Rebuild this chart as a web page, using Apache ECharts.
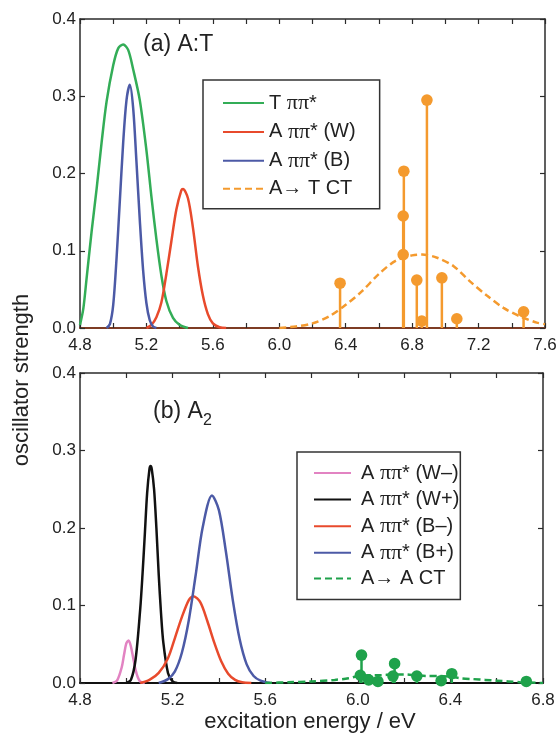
<!DOCTYPE html>
<html>
<head>
<meta charset="utf-8">
<script src="https://cdn.jsdelivr.net/npm/echarts@6/dist/echarts.min.js"></script>
<style>
  html, body { margin: 0; padding: 0; background: #ffffff; }
  #chart { width: 560px; height: 736px; }
</style>
</head>
<body>
<div id="chart"></div>
<script>
// ---------- (a) A:T  ----------
const xTicksA = [4.8, 5.2, 5.6, 6.0, 6.4, 6.8, 7.2, 7.6];
const yTicks = [0.0, 0.1, 0.2, 0.3, 0.4];

const tPiE = [4.80, 4.82, 4.84, 4.87, 4.90, 4.93, 4.96, 5.00, 5.03, 5.06, 5.09, 5.12, 5.16, 5.20, 5.23, 5.26, 5.29, 5.32, 5.36, 5.40, 5.45];
const tPiF = [0.004, 0.025, 0.065, 0.125, 0.180, 0.240, 0.293, 0.340, 0.362, 0.367, 0.360, 0.335, 0.295, 0.230, 0.170, 0.115, 0.068, 0.035, 0.013, 0.004, 0.000];

const aWE = [5.20, 5.23, 5.26, 5.29, 5.32, 5.35, 5.38, 5.41, 5.42, 5.45, 5.48, 5.51, 5.54, 5.57, 5.60, 5.64, 5.68];
const aWF = [0.000, 0.004, 0.014, 0.033, 0.070, 0.112, 0.153, 0.178, 0.180, 0.168, 0.130, 0.080, 0.042, 0.018, 0.006, 0.001, 0.000];

const aBE = [4.96, 4.98, 5.00, 5.02, 5.04, 5.06, 5.08, 5.10, 5.12, 5.14, 5.16, 5.18, 5.20, 5.22, 5.24, 5.26];
const aBF = [0.000, 0.005, 0.030, 0.090, 0.165, 0.240, 0.295, 0.315, 0.285, 0.215, 0.140, 0.075, 0.032, 0.010, 0.002, 0.000];

const atCtE = [6.00, 6.10, 6.20, 6.30, 6.40, 6.50, 6.60, 6.70, 6.80, 6.86, 6.95, 7.05, 7.15, 7.25, 7.35, 7.45, 7.55, 7.60];
const atCtF = [0.000, 0.002, 0.006, 0.015, 0.030, 0.048, 0.070, 0.087, 0.094, 0.095, 0.091, 0.080, 0.060, 0.042, 0.026, 0.015, 0.007, 0.005];

// individual A→T charge-transfer states
const atStickE = [6.366, 6.746, 6.746, 6.750, 6.828, 6.858, 6.889, 6.979, 7.069, 7.471];
const atStickF = [0.058, 0.095, 0.145, 0.203, 0.062, 0.009, 0.295, 0.065, 0.012, 0.021];

// ---------- (b) A2  ----------
const xTicksB = [4.8, 5.2, 5.6, 6.0, 6.4, 6.8];

const wmE = [4.94, 4.96, 4.98, 4.99, 5.00, 5.01, 5.02, 5.03, 5.04, 5.05, 5.06, 5.08];
const wmF = [0.000, 0.003, 0.020, 0.036, 0.051, 0.055, 0.047, 0.032, 0.017, 0.007, 0.002, 0.000];

const wpE = [5.00, 5.02, 5.04, 5.06, 5.07, 5.08, 5.09, 5.10, 5.105, 5.11, 5.12, 5.13, 5.14, 5.15, 5.16, 5.18, 5.20, 5.22];
const wpF = [0.000, 0.004, 0.030, 0.095, 0.140, 0.192, 0.245, 0.276, 0.280, 0.276, 0.250, 0.200, 0.140, 0.090, 0.052, 0.013, 0.002, 0.000];

const bmE = [5.06, 5.10, 5.14, 5.18, 5.21, 5.24, 5.27, 5.29, 5.32, 5.35, 5.38, 5.41, 5.44, 5.47, 5.50, 5.54];
const bmF = [0.000, 0.004, 0.013, 0.032, 0.058, 0.085, 0.107, 0.112, 0.104, 0.080, 0.052, 0.028, 0.012, 0.004, 0.001, 0.000];

const bpE = [5.14, 5.18, 5.21, 5.24, 5.27, 5.30, 5.33, 5.37, 5.40, 5.43, 5.46, 5.49, 5.52, 5.55, 5.58, 5.62];
const bpF = [0.000, 0.005, 0.015, 0.039, 0.081, 0.140, 0.201, 0.242, 0.223, 0.170, 0.107, 0.056, 0.024, 0.009, 0.003, 0.000];

const aaCtE = [5.60, 5.70, 5.80, 5.90, 5.96, 6.00, 6.05, 6.10, 6.15, 6.20, 6.25, 6.30, 6.35, 6.40, 6.45, 6.50, 6.55, 6.60, 6.65, 6.70, 6.80];
const aaCtF = [0.000, 0.001, 0.002, 0.004, 0.006, 0.009, 0.010, 0.010, 0.011, 0.011, 0.010, 0.009, 0.009, 0.008, 0.006, 0.005, 0.004, 0.003, 0.002, 0.001, 0.000];

// individual A→A charge-transfer states
const aaStickE = [6.016, 6.011, 6.047, 6.087, 6.159, 6.152, 6.255, 6.360, 6.406, 6.728];
const aaStickF = [0.036, 0.010, 0.004, 0.002, 0.025, 0.009, 0.009, 0.003, 0.012, 0.002];

// ---------- styling ----------
const FONT = 'Liberation Sans, Arial, Helvetica, sans-serif';
const AXIS = '#2b2b2b';
const C = {
  green: '#33ad57', red: '#e84a2c', blue: '#4c5aa6', orange: '#f49a2e',
  pink: '#e283c2', black: '#111111', ctGreen: '#1fa24b'
};

const zip = (xs, ys) => xs.map((x, i) => [x, ys[i]]);

function curve(name, xs, ys, color, gi, dashed) {
  return {
    name, type: 'line', xAxisIndex: gi * 2, yAxisIndex: gi * 2,
    data: zip(xs, ys), showSymbol: false, symbol: 'none', smooth: 0.3,
    lineStyle: { color, width: 2.5, type: dashed ? [7, 4] : 'solid' },
    itemStyle: { color }, silent: true, animation: false, z: 3
  };
}

function sticks(name, xs, ys, color, gi) {
  return {
    name, type: 'custom', xAxisIndex: gi * 2, yAxisIndex: gi * 2,
    data: zip(xs, ys), encode: { x: 0, y: 1 }, animation: false, silent: true, z: 4,
    renderItem(params, api) {
      const p0 = api.coord([api.value(0), 0]);
      const p1 = api.coord([api.value(0), api.value(1)]);
      return {
        type: 'group',
        children: [
          { type: 'line', shape: { x1: p0[0], y1: p0[1], x2: p1[0], y2: p1[1] },
            style: { stroke: color, lineWidth: 2.5 } },
          { type: 'circle', shape: { cx: p1[0], cy: p1[1], r: 5.8 },
            style: { fill: color } }
        ]
      };
    }
  };
}

const fmt1 = v => (Math.round(v * 10) / 10).toFixed(1);

function xAxes(gi, ticks, baseColor) {
  const common = {
    type: 'value', gridIndex: gi, min: ticks[0], max: ticks[ticks.length - 1], interval: 0.4,
    splitLine: { show: false },
    axisTick: { show: true, inside: true, length: 5, lineStyle: { color: AXIS, width: 1.2 } },
    minorTick: { show: true, splitNumber: 2, length: 5, lineStyle: { color: AXIS, width: 1.2 } },
    minorSplitLine: { show: false }
  };
  return [
    Object.assign({}, common, {
      position: 'bottom',
      axisLine: { show: true, onZero: false, lineStyle: { color: baseColor, width: 2 } },
      axisLabel: { show: true, margin: 9, fontSize: 17, color: '#222', fontFamily: FONT, formatter: fmt1 }
    }),
    Object.assign({}, common, {
      position: 'top',
      axisLine: { show: true, onZero: false, lineStyle: { color: AXIS, width: 1.5 } },
      axisLabel: { show: false }
    })
  ];
}

function yAxes(gi) {
  const common = {
    type: 'value', gridIndex: gi, min: yTicks[0], max: yTicks[yTicks.length - 1], interval: 0.1,
    splitLine: { show: false },
    axisTick: { show: true, inside: true, length: 5, lineStyle: { color: AXIS, width: 1.2 } }
  };
  return [
    Object.assign({}, common, {
      position: 'left',
      axisLine: { show: true, onZero: false, lineStyle: { color: AXIS, width: 1.5 } },
      axisLabel: { show: true, margin: 4, fontSize: 17, color: '#222', fontFamily: FONT, formatter: fmt1 }
    }),
    Object.assign({}, common, {
      position: 'right',
      axisLine: { show: true, onZero: false, lineStyle: { color: AXIS, width: 1.5 } },
      axisLabel: { show: false }
    })
  ];
}

const piRich = { p: { fontFamily: 'Liberation Serif, Times New Roman, serif', fontSize: 22, lineHeight: 20, color: '#222' } };
const piFmt = name => name.replace('ππ', '{p|ππ}');

const namesA = ['T ππ*', 'A ππ* (W)', 'A ππ* (B)', 'A→ T CT'];
const namesB = ['A ππ* (W–)', 'A ππ* (W+)', 'A ππ* (B–)', 'A ππ* (B+)', 'A→ A CT'];

const legendText = {
  fontSize: 20, lineHeight: 20, color: '#222', fontFamily: FONT, rich: piRich
};

const option = {
  backgroundColor: '#ffffff',
  animation: false,
  grid: [
    { left: 80, top: 19, width: 465, height: 309 },
    { left: 80, top: 373, width: 463, height: 310 }
  ],
  xAxis: [].concat(xAxes(0, xTicksA, '#7e3c24'), xAxes(1, xTicksB, '#111111')),
  yAxis: [].concat(yAxes(0), yAxes(1)),
  legend: [
    {
      data: namesA, orient: 'vertical', left: 203, top: 80,
      padding: [12, 24, 10, 19], itemWidth: 41, itemHeight: 20, itemGap: 6.9,
      borderColor: '#333', borderWidth: 1.5, backgroundColor: '#ffffff',
      selectedMode: false, formatter: piFmt,
      itemStyle: { opacity: 0 },
      textStyle: Object.assign({}, legendText)
    },
    {
      data: namesB, orient: 'vertical', left: 297, top: 452,
      padding: [10, 1, 11, 16], itemWidth: 37, itemHeight: 20, itemGap: 4.6,
      borderColor: '#333', borderWidth: 1.5, backgroundColor: '#ffffff',
      selectedMode: false, formatter: piFmt,
      itemStyle: { opacity: 0 },
      textStyle: Object.assign({}, legendText, { padding: [0, 0, 0, 5] })
    }
  ],
  graphic: [
    { type: 'text', x: 143, y: 45, style: { text: '(a) A:T', font: '23px ' + FONT, fill: '#222', verticalAlign: 'middle' } },
    { type: 'text', x: 153, y: 412, style: { text: '(b) A', font: '23px ' + FONT, fill: '#222', verticalAlign: 'middle' } },
    { type: 'text', x: 203, y: 421, style: { text: '2', font: '16px ' + FONT, fill: '#222', verticalAlign: 'middle' } },
    { type: 'text', x: 22, y: 380, rotation: Math.PI / 2,
      style: { text: 'oscillator strength', font: '22px ' + FONT, fill: '#222', align: 'center', verticalAlign: 'middle' } },
    { type: 'text', x: 310, y: 722,
      style: { text: 'excitation energy / eV', font: '22px ' + FONT, fill: '#222', align: 'center', verticalAlign: 'middle' } }
  ],
  series: [
    curve(namesA[0], tPiE, tPiF, C.green, 0),
    curve(namesA[1], aWE, aWF, C.red, 0),
    curve(namesA[2], aBE, aBF, C.blue, 0),
    curve(namesA[3], atCtE, atCtF, C.orange, 0, true),
    sticks('A→T states', atStickE, atStickF, C.orange, 0),

    curve(namesB[0], wmE, wmF, C.pink, 1),
    curve(namesB[1], wpE, wpF, C.black, 1),
    curve(namesB[2], bmE, bmF, C.red, 1),
    curve(namesB[3], bpE, bpF, C.blue, 1),
    curve(namesB[4], aaCtE, aaCtF, C.ctGreen, 1, true),
    sticks('A→A states', aaStickE, aaStickF, C.ctGreen, 1)
  ]
};

const chart = echarts.init(document.getElementById('chart'), null, { renderer: 'canvas' });
chart.setOption(option);
</script>
</body>
</html>
